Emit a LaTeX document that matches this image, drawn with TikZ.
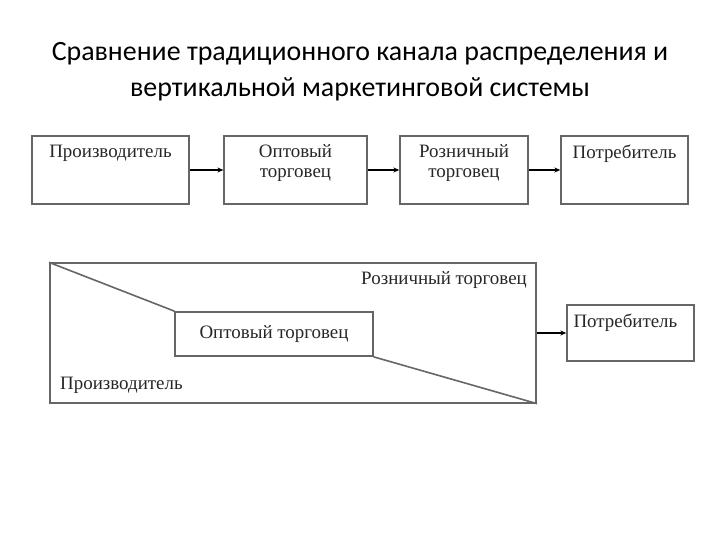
\documentclass[tikz,border=0pt]{standalone}
\usepackage{fontspec}
\setmainfont{Liberation Serif}
\newfontfamily\titlefont{Carlito}
\usetikzlibrary{positioning,arrows.meta,calc}
\tikzset{
  chbox/.style={draw=black!60,line width=1.8bp,fill=white,inner sep=0pt},
  chlbl/.style={font=\fontsize{19}{20}\selectfont,text=black!85,align=center,inner sep=0pt},
  flow/.style={-{Stealth[length=6bp,width=5bp]},line width=1.4bp},
}
\begin{document}
\begin{tikzpicture}[x=1bp,y=-1bp]
  \useasboundingbox[fill=white] (0,0) rectangle (720,540);
  % title
  \node[font=\titlefont\fontsize{28}{36}\selectfont,align=center] (title) at (360,72)
    {Сравнение традиционного канала распределения и\\вертикальной маркетинговой системы};
  % traditional channel
  \node[chbox,minimum width=157,minimum height=69] (prod) at (110.5,170) {};
  \node[chbox,minimum width=143,minimum height=69] (whole) at (295.5,170) {};
  \node[chbox,minimum width=128,minimum height=69] (retail) at (464,170) {};
  \node[chbox,minimum width=127,minimum height=69] (cons) at (624.5,170) {};
  \node[chlbl,anchor=north] (prodt) at ($(prod.north)+(0,10)$) {Производитель};
  \node[chlbl,anchor=north] (wholet) at ($(whole.north)+(0,10)$) {Оптовый\\торговец};
  \node[chlbl,anchor=north] (retailt) at ($(retail.north)+(0,10)$) {Розничный\\торговец};
  \node[chlbl,anchor=north] (const) at ($(cons.north)+(0,10)$) {Потребитель};
  \draw[flow] (prod) -- (whole);
  \draw[flow] (whole) -- (retail);
  \draw[flow] (retail) -- (cons);
  % vertical marketing system
  \node[chbox,minimum width=488,minimum height=140] (vms) at (293,333) {};
  \node[chbox,minimum width=198,minimum height=44] (opt) at (274,334) {};
  \draw[draw=black!60,line width=1.6bp] (vms.north west) -- (opt.north west);
  \draw[draw=black!60,line width=1.6bp] (opt.south east) -- (vms.south east);
  \node[chlbl] (optt) at (opt) {Оптовый торговец};
  \node[chlbl,anchor=north east] (vmsr) at ($(vms.north east)+(-10,9)$) {Розничный торговец};
  \node[chlbl,anchor=south west] (vmsp) at ($(vms.south west)+(11,-10)$) {Производитель};
  \node[chbox,minimum width=127,minimum height=56] (cons2) at (630.5,333) {};
  \node[chlbl,anchor=north west] (cons2t) at ($(cons2.north west)+(7,10)$) {Потребитель};
  \draw[flow] (vms) -- (cons2);
\end{tikzpicture}
\end{document}
